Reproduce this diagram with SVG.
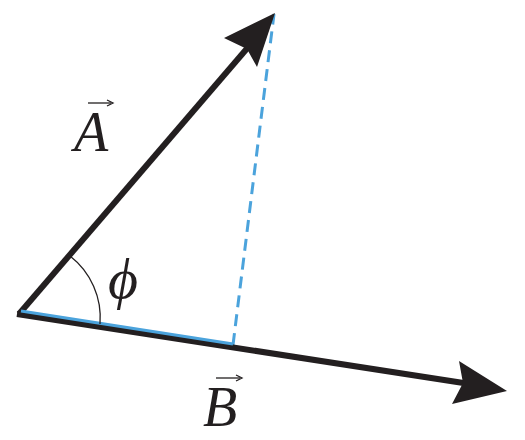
<svg xmlns="http://www.w3.org/2000/svg" width="525" height="440" viewBox="0 0 525 440">
<style>
.vec{stroke:#231f20;stroke-width:6;fill:none;stroke-linecap:butt}
.head{fill:#231f20}
.proj{stroke:#4ba3dc;stroke-width:3;fill:none}
.dash{stroke:#4ba3dc;stroke-width:3;fill:none;stroke-dasharray:12,7}
.lbl{font-family:"Liberation Serif","DejaVu Serif",serif;font-style:italic;fill:#231f20}
.small{stroke:#231f20;stroke-width:1.3;fill:none}
</style>
<rect width="525" height="440" fill="#ffffff"/>
<g id="connectors">
<line class="dash" x1="233" y1="345" x2="274" y2="14"/>
</g>
<g id="vectorA">
<line class="vec" x1="19" y1="314" x2="250" y2="45"/>
<polygon class="head" points="275,13 257,67 247,49 224,38"/>
</g>
<g id="vectorB">
<line class="vec" x1="17" y1="314" x2="470" y2="384"/>
<polygon class="head" points="507,391 452,404 463,383 459,361"/>
</g>
<g id="projection">
<line class="proj" x1="21" y1="311" x2="233" y2="344"/>
</g>
<g id="angle">
<path class="small" d="M70,256 A78,78 0 0 1 100,324" stroke-width="2.2"/>
<text class="lbl" x="108" y="298" font-size="58">ϕ</text>
</g>
<g id="labelA">
<text class="lbl" x="74" y="151" font-size="56">A</text>
<line class="small" x1="88" y1="103" x2="111" y2="103"/>
<path class="small" d="M107,100 L113,103 L107,106"/>
</g>
<g id="labelB">
<text class="lbl" x="203" y="426" font-size="56">B</text>
<line class="small" x1="216" y1="378" x2="240" y2="378"/>
<path class="small" d="M236,375 L242,378 L236,381"/>
</g>
</svg>
